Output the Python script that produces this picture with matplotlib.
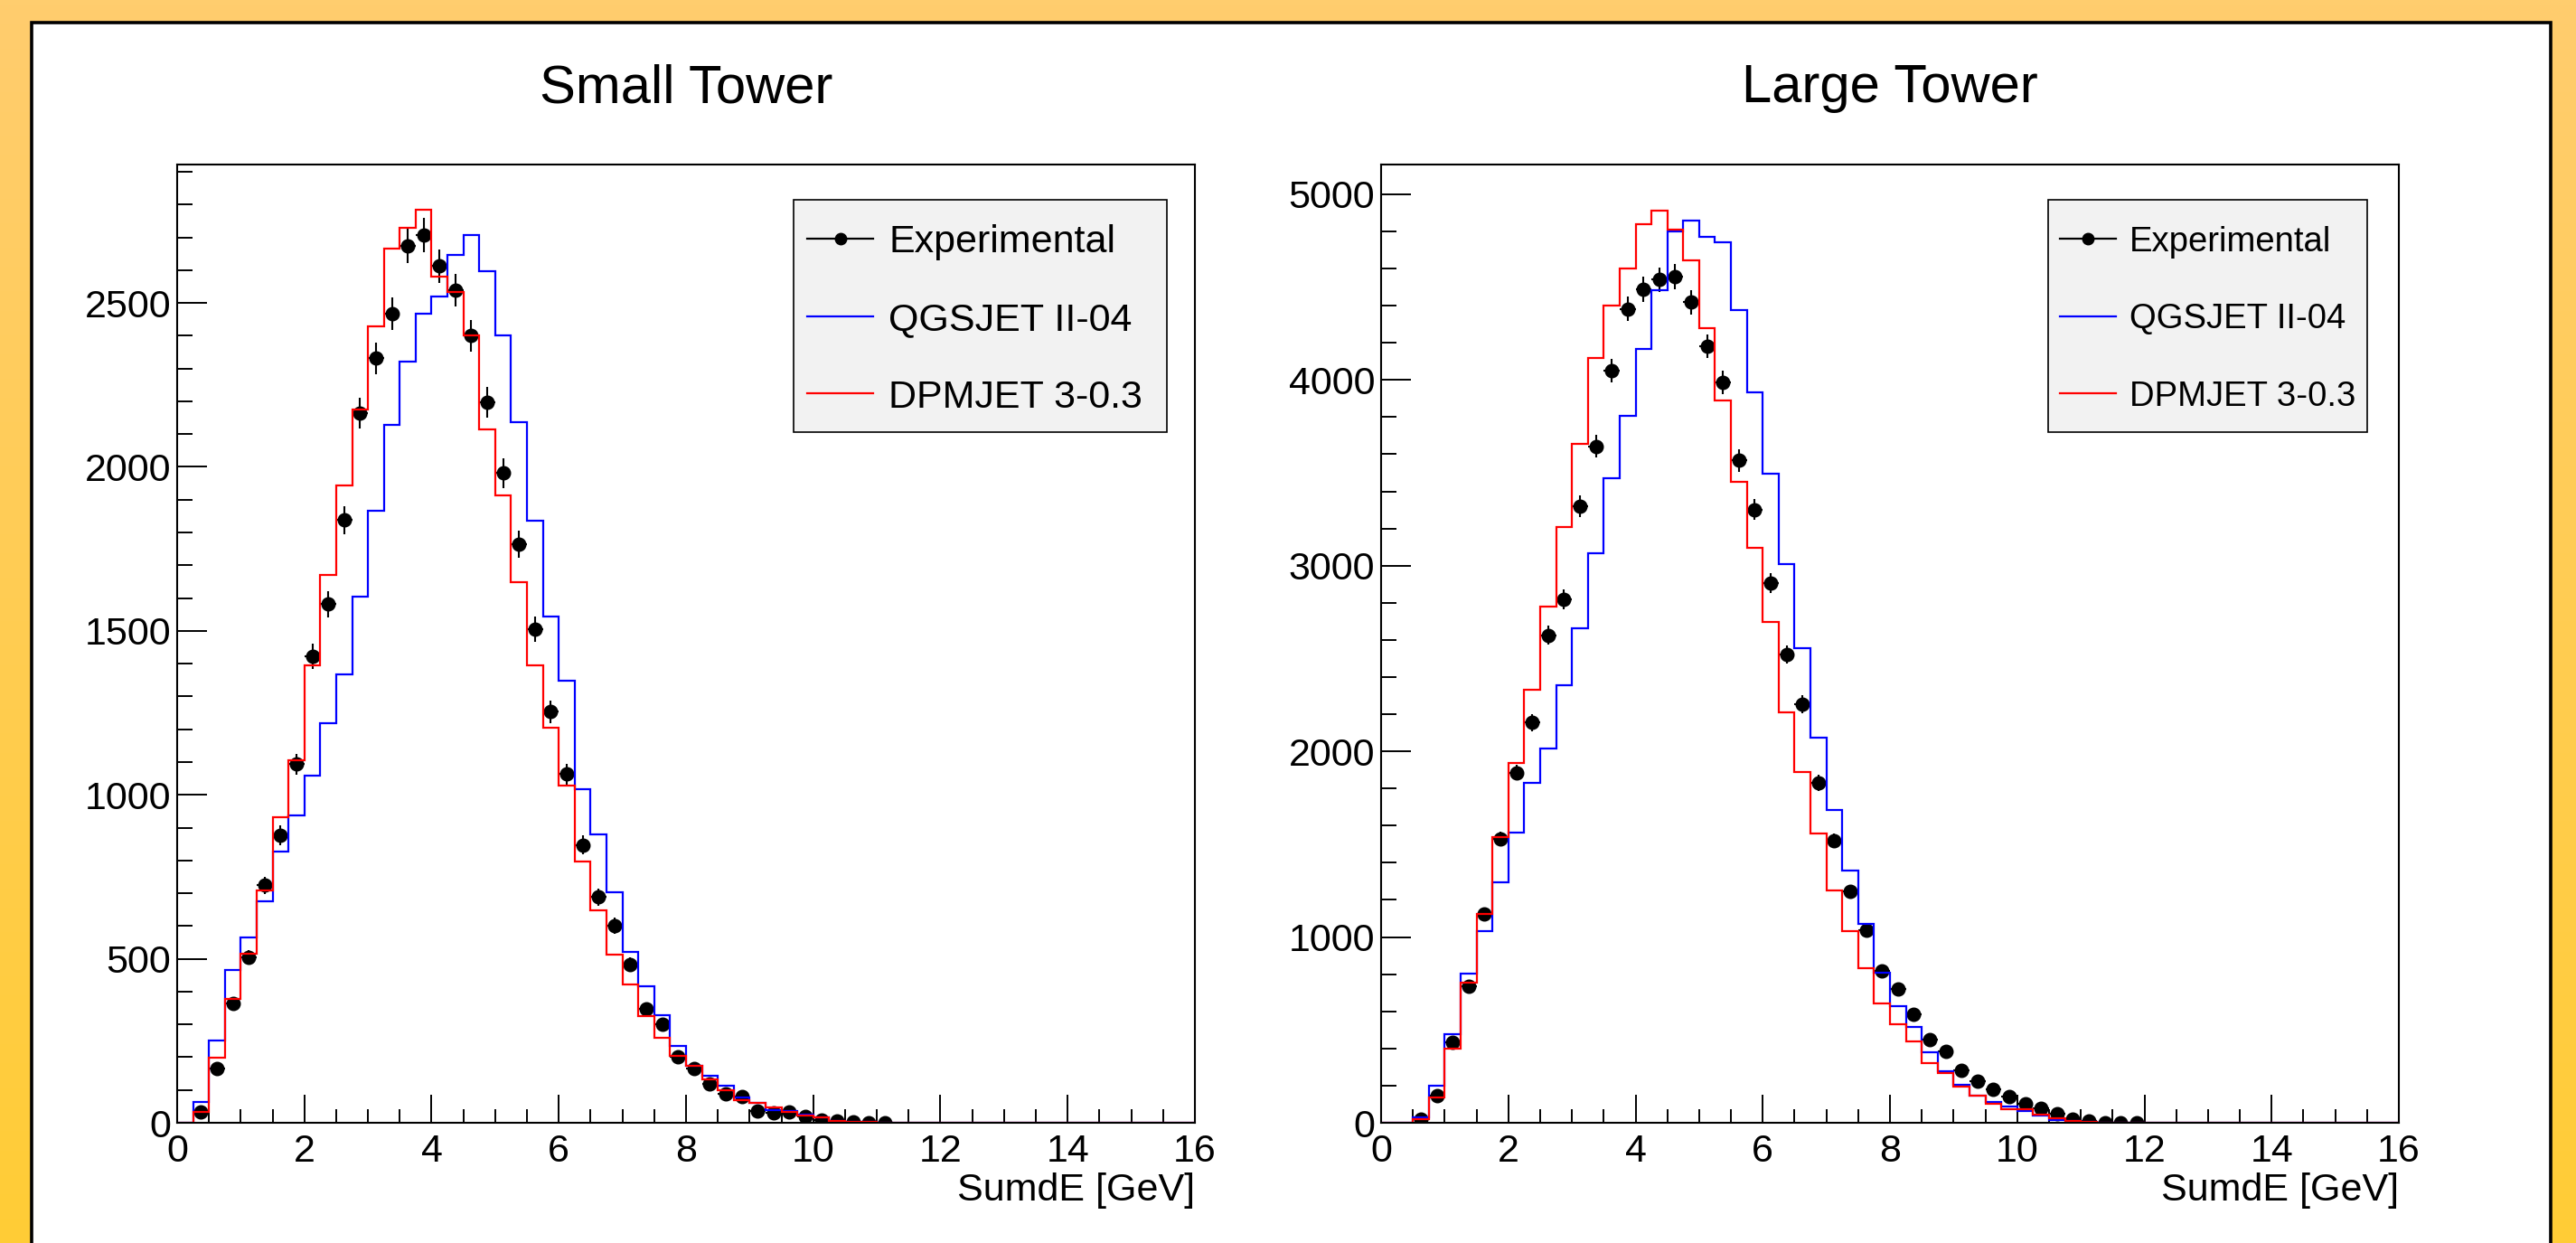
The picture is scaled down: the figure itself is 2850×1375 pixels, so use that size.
import numpy as np
import matplotlib
matplotlib.use("Agg")
import matplotlib.pyplot as plt
from matplotlib.patches import Rectangle
from matplotlib.colors import LinearSegmentedColormap
from matplotlib.ticker import MultipleLocator

plt.rcParams["font.family"] = ["Liberation Sans", "DejaVu Sans"]

W, H, DPI = 2850, 1375, 100

bin_width = 0.25
labels = ["Experimental", "QGSJET II-04", "DPMJET 3-0.3"]
colors = ["black", "#0000ff", "#ff0000"]

# Small Tower, first filled bin starts at 0.25 GeV
small_start = 0.25
small_qgsjet = [63, 251, 465, 565, 676, 826, 937, 1059, 1218, 1366,
                1603, 1867, 2128, 2320, 2468, 2519, 2645, 2706, 2597, 2401,
                2137, 1837, 1543, 1349, 1016, 878, 702, 520, 416, 328,
                234, 174, 142, 114, 76, 60, 39, 37, 24, 16,
                5, 3, 2, 1]
small_dpmjet = [32, 198, 377, 516, 708, 932, 1105, 1395, 1671, 1944,
                2175, 2429, 2666, 2729, 2783, 2580, 2532, 2401, 2115, 1913,
                1648, 1395, 1205, 1029, 798, 647, 514, 423, 326, 260,
                203, 174, 132, 100, 68, 60, 47, 32, 21, 16,
                5, 3, 2, 1]
small_data = [32, 165, 363, 505, 724, 877, 1093, 1422, 1582, 1838,
              2163, 2332, 2466, 2674, 2706, 2613, 2539, 2400, 2198, 1981,
              1764, 1505, 1253, 1063, 847, 689, 600, 482, 347, 300,
              202, 165, 119, 89, 79, 37, 29, 32, 18, 8,
              5, 2, 1, 1]

# Large Tower, first filled bin starts at 0.5 GeV
large_start = 0.5
large_qgsjet = [28, 200, 476, 804, 1030, 1296, 1564, 1830, 2017, 2357,
                2665, 3069, 3471, 3807, 4168, 4485, 4799, 4859, 4773, 4740,
                4377, 3934, 3497, 3009, 2555, 2076, 1685, 1359, 1073, 810,
                629, 514, 378, 279, 205, 145, 112, 86, 61, 37,
                15, 9, 5, 2, 1, 0]
large_dpmjet = [18, 137, 397, 756, 1123, 1536, 1939, 2333, 2780, 3208,
                3655, 4120, 4401, 4598, 4838, 4914, 4810, 4643, 4280, 3889,
                3450, 3097, 2699, 2212, 1888, 1556, 1253, 1030, 831, 644,
                531, 440, 322, 266, 196, 145, 104, 74, 71, 43,
                24, 9, 6, 2, 1, 0]
large_data = [21, 147, 432, 737, 1123, 1529, 1886, 2156, 2625, 2820,
              3320, 3642, 4051, 4382, 4488, 4540, 4557, 4418, 4181, 3986,
              3567, 3302, 2907, 2521, 2253, 1830, 1520, 1244, 1035, 816,
              719, 583, 449, 384, 281, 223, 179, 142, 104, 76,
              48, 20, 9, 2, 1, 1]

fig = plt.figure(figsize=(W / DPI, H / DPI), dpi=DPI)

# orange frame and white canvas (pixel coordinates, y down)
bg = fig.add_axes([0, 0, 1, 1], zorder=-10)
grad = np.linspace(0, 1, 256).reshape(-1, 1)
cmap = LinearSegmentedColormap.from_list("frame", ["#ffcd6e", "#ffcc36"])
bg.imshow(grad, cmap=cmap, aspect="auto", extent=[0, W, H, 0])
bg.add_patch(Rectangle((35, 25), 2822 - 35, H, facecolor="white",
                       edgecolor="black", lw=2.6))
bg.set_xlim(0, W)
bg.set_ylim(H, 0)
bg.axis("off")

# overlay for legends, same pixel coordinates
ov = fig.add_axes([0, 0, 1, 1], zorder=10)
ov.set_xlim(0, W)
ov.set_ylim(H, 0)
ov.axis("off")


def draw_legend(x0, x1, y0, y1, fsize):
    # ROOT style TLegend: three equal rows, symbol column = 25% of width
    ov.add_patch(Rectangle((x0, y0), x1 - x0, y1 - y0, facecolor="#f2f2f2",
                           edgecolor="black", lw=1.2))
    row = (y1 - y0) / 3
    margin = 0.25 * (x1 - x0)
    fpx = fsize * DPI / 72
    for i, (lab, col) in enumerate(zip(labels, colors)):
        yc = y0 + row * (i + 0.5)
        ov.plot([x0 + 0.15 * margin, x0 + 0.85 * margin], [yc, yc],
                color=col, lw=1.6)
        if i == 0:
            ov.plot([x0 + 0.5 * margin], [yc], "o", color="black", ms=9)
        ov.text(x0 + margin + 2, yc + 0.36 * fpx, lab, fontsize=fsize,
                ha="left", va="baseline")


def draw_panel(rect, start, qgsjet, dpmjet, data, ymax, ymajor, yminor, title):
    ax = fig.add_axes(rect)
    n_all = int(round(16 / bin_width))
    edges = np.arange(n_all + 1) * bin_width
    i0 = int(round(start / bin_width))

    def full(vals):
        out = np.zeros(n_all)
        out[i0:i0 + len(vals)] = vals
        return out

    data = np.asarray(data, dtype=float)
    centers = start + bin_width * (np.arange(len(data)) + 0.5)
    ax.errorbar(centers, data, yerr=np.sqrt(data), xerr=bin_width / 2,
                fmt="o", color="black", ms=10.5, elinewidth=1.5, capsize=0,
                zorder=2)
    ax.stairs(full(qgsjet), edges, color="#0000ff", lw=1.6, zorder=3)
    ax.stairs(full(dpmjet), edges, color="#ff0000", lw=1.6, zorder=3)

    ax.set_xlim(0, 16)
    ax.set_ylim(0, ymax)
    ax.xaxis.set_major_locator(MultipleLocator(2))
    ax.xaxis.set_minor_locator(MultipleLocator(0.5))
    ax.yaxis.set_major_locator(MultipleLocator(ymajor))
    ax.yaxis.set_minor_locator(MultipleLocator(yminor))
    ax.tick_params(which="both", direction="in", top=False, right=False,
                   width=1.4, labelsize=31)
    ax.tick_params(axis="x", which="major", length=22, pad=8.5)
    ax.tick_params(axis="x", which="minor", length=11)
    ax.tick_params(axis="y", which="major", length=24, pad=5)
    ax.tick_params(axis="y", which="minor", length=12)
    for s in ax.spines.values():
        s.set_linewidth(1.5)
        s.set_zorder(4)

    ax.set_xlabel("SumdE [GeV]", fontsize=31, loc="right")
    ax.xaxis.set_label_coords(1.0, -0.052)

    x0, w = rect[0], rect[2]
    fig.text(x0 + w / 2, 1 - 113 / H, title, ha="center", va="baseline",
             fontsize=43)
    return ax


ax_h = 1060 / H
ax_w = 1126 / W
ax_y = 1 - 1242 / H

draw_panel([196 / W, ax_y, ax_w, ax_h], small_start, small_qgsjet,
           small_dpmjet, small_data, 2922, 500, 100, "Small Tower")
draw_panel([1528 / W, ax_y, ax_w, ax_h], large_start, large_qgsjet,
           large_dpmjet, large_data, 5160, 1000, 200, "Large Tower")

draw_legend(878, 1291, 221, 478, 31)
draw_legend(2266, 2619, 221, 478, 27.5)

fig.savefig("out.png", dpi=DPI)
